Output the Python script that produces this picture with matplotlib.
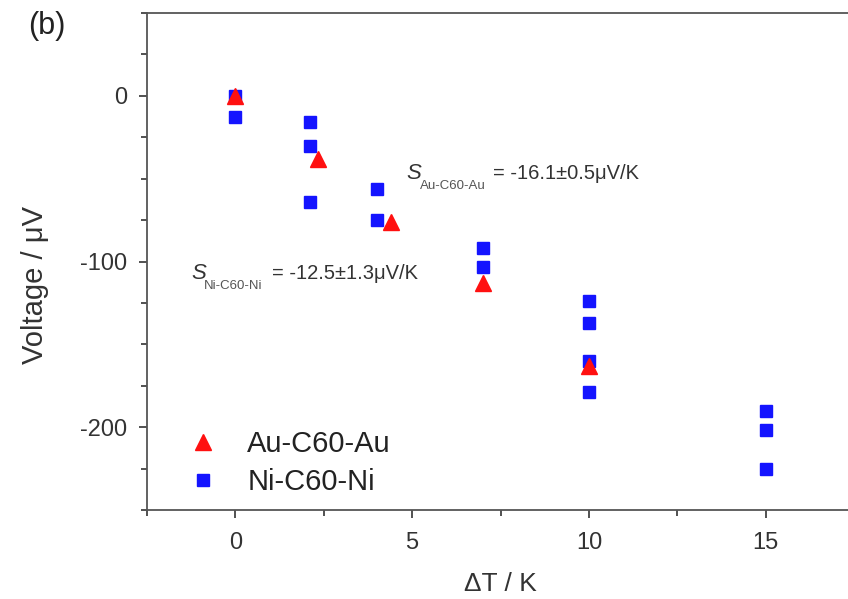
import matplotlib
matplotlib.use("Agg")
import matplotlib.pyplot as plt
from matplotlib.ticker import MultipleLocator

plt.rcParams['font.family'] = ['Liberation Sans', 'DejaVu Sans']
plt.rcParams['axes.unicode_minus'] = False

# Au-C60-Au (triangles)
au_dt = [0, 2.35, 4.4, 7.0, 10.0]
au_v = [0, -38, -76, -113, -163]

# Ni-C60-Ni (squares)
ni_dt = [0, 0, 2.1, 2.1, 2.1, 4.0, 4.0, 7.0, 7.0, 10.0, 10.0, 10.0, 10.0, 15.0, 15.0, 15.0]
ni_v = [0, -13, -15.5, -30.5, -64, -56, -75, -92, -103.5, -124, -137, -160, -179, -190, -202, -225]

fig = plt.figure(figsize=(8.48, 5.99), dpi=100)
ax = fig.add_axes([147 / 848, 89 / 599, (854 - 147) / 848, (510 - 13) / 599])

ax.plot(ni_dt, ni_v, 's', color='#1414ff', markersize=9, linestyle='none', label='Ni-C60-Ni')
ax.plot(au_dt, au_v, '^', color='#ff1010', markersize=12, linestyle='none', label='Au-C60-Au')

ax.set_xlim(-2.5, 17.5)
ax.set_ylim(-250, 50)
ax.xaxis.set_major_locator(MultipleLocator(5))
ax.xaxis.set_minor_locator(MultipleLocator(2.5))
ax.yaxis.set_major_locator(MultipleLocator(100))
ax.yaxis.set_minor_locator(MultipleLocator(25))
ax.tick_params(which='both', direction='out', labelsize=17, colors='#333333', width=1.2)
ax.tick_params(which='major', length=6)
ax.tick_params(which='minor', length=4)
ax.tick_params(axis='x', which='major', pad=10)
ax.tick_params(axis='y', which='major', pad=8)
for s in ax.spines.values():
    s.set_color('#555555')
    s.set_linewidth(1.3)

ax.set_xlabel('ΔT / K', fontsize=19, color='#333333', labelpad=12.5)
ax.set_ylabel('Voltage / μV', fontsize=21, color='#333333')
ax.yaxis.set_label_coords(-0.139, 0.453)

# legend: triangle first
h, l = ax.get_legend_handles_labels()
ax.legend(h[::-1], l[::-1], loc='lower left', bbox_to_anchor=(0.058, 0.028), frameon=False,
          fontsize=21, handlelength=1.0, handletextpad=1.03, labelspacing=0.35,
          borderaxespad=0, borderpad=0, labelcolor='#222222')

# Seebeck annotations
ax.text(4.84, -47, 'S', fontsize=16, style='italic', color='#333333', va='center', ha='left')
ax.text(5.21, -54.2, 'Au-C60-Au', fontsize=9.5, color='#555555', va='center', ha='left')
ax.text(7.28, -47, '= -16.1±0.5μV/K', fontsize=14.5, color='#333333', va='center', ha='left')

ax.text(-1.25, -107.2, 'S', fontsize=16, style='italic', color='#333333', va='center', ha='left')
ax.text(-0.88, -114.5, 'Ni-C60-Ni', fontsize=9.5, color='#555555', va='center', ha='left')
ax.text(1.05, -107.2, '= -12.5±1.3μV/K', fontsize=14.5, color='#333333', va='center', ha='left')

fig.text(28 / 848, 1 - 26 / 599, '(b)', fontsize=22, color='#222222', va='center', ha='left')

fig.savefig('out.png', dpi=100)
